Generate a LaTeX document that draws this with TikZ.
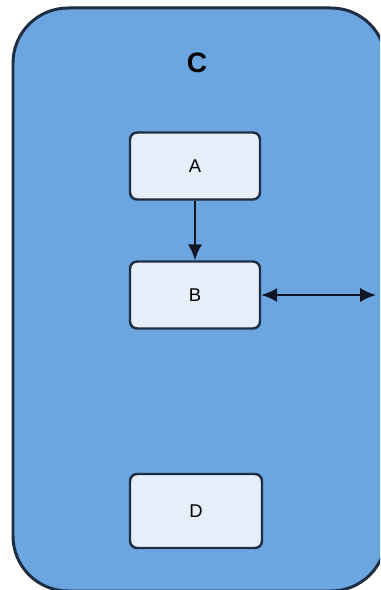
\documentclass[tikz,border=0pt]{standalone}
\usepackage{fontspec}
\setmainfont{Liberation Sans}
\usetikzlibrary{arrows.meta, positioning}
\definecolor{outerblue}{RGB}{108,166,224}
\definecolor{boxfill}{RGB}{230,238,250}
\definecolor{edgedark}{RGB}{30,46,66}
\definecolor{arrowdark}{RGB}{16,22,36}

\begin{document}
\begin{tikzpicture}[x=0.02cm, y=-0.02cm,
        blk/.style={draw=edgedark, line width=1.4pt, fill=boxfill, rounded corners=4pt,
            minimum width=2.6cm, minimum height=1.34cm, font=\fontsize{10.5}{12}\selectfont},
        lnk/.style={arrowdark, line width=1.2pt},
        bigtip/.tip={Latex[length=9pt,width=8pt]}]
            \useasboundingbox (0,0) rectangle (380,590);
            \clip (0,0) rectangle (380,590);
            \fill[white] (0,0) rectangle (380,590);
            \draw[edgedark, line width=1.7pt, fill=outerblue, rounded corners=1.1cm] (13,8) rectangle (386,591);% container C

            \node[font=\bfseries\fontsize{16}{18}\selectfont] (labC) at (197,63) {C};
            \node[blk] (A) at (195,166) {A};
            \node[blk] (B) at (195,295) {B};
            \node[blk, minimum width=2.64cm, minimum height=1.48cm] (D) at (196,511) {D};

            \coordinate (Cedge) at (376,295);
            \draw[lnk, -bigtip] (A) -- (B);
            \draw[lnk, bigtip-bigtip] (B.east) -- (Cedge);
        \end{tikzpicture}
\end{document}
